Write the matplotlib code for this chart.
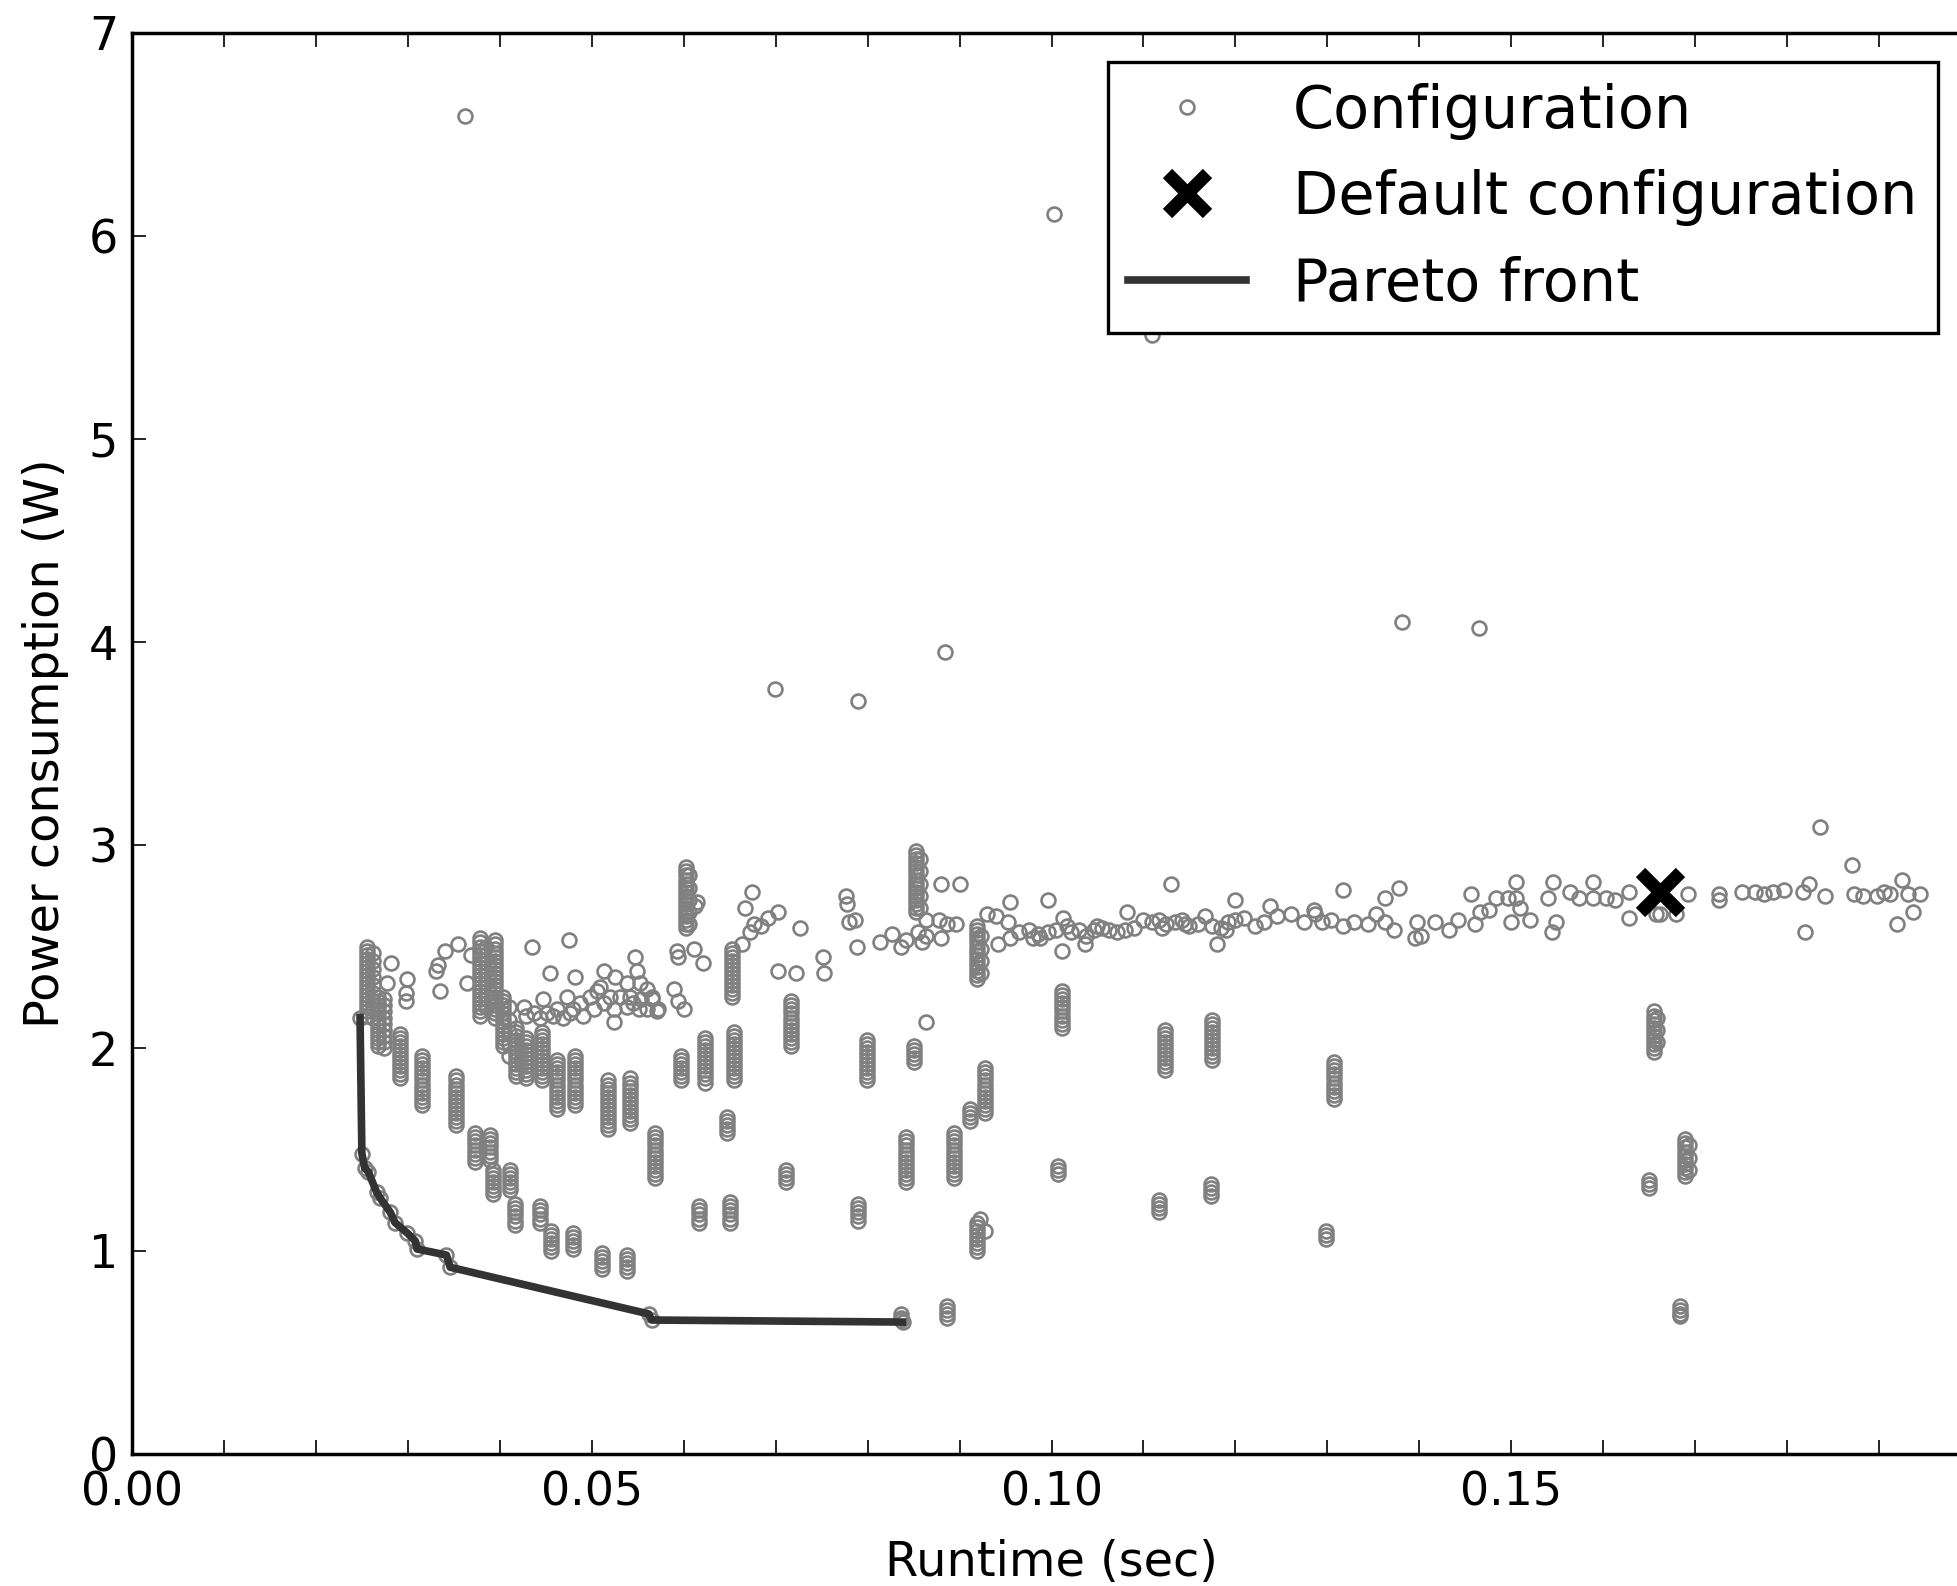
import matplotlib
matplotlib.use("Agg")
import matplotlib.pyplot as plt
from matplotlib.ticker import FixedLocator, MultipleLocator

# dense vertical groups of configurations: one runtime, several power readings
group_runtime = [0.0256, 0.0262, 0.0267, 0.0274, 0.0292, 0.0315, 0.0352, 0.0373, 0.0389,
                 0.0393, 0.0411, 0.0417, 0.0444, 0.0456, 0.0480, 0.0511, 0.0538,
                 0.0379, 0.0395, 0.0403, 0.0418, 0.0428, 0.0446, 0.0462, 0.0482, 0.0518,
                 0.0542, 0.0569, 0.0597, 0.0623, 0.0655, 0.0647, 0.0617, 0.0650, 0.0602,
                 0.0652, 0.0717, 0.0711, 0.0799, 0.0851, 0.0790, 0.0842, 0.0894, 0.0853,
                 0.0919, 0.0928, 0.0911, 0.0919, 0.0886, 0.0836, 0.1011, 0.1007, 0.1123,
                 0.1175, 0.1117, 0.1173, 0.1307, 0.1299, 0.1655, 0.1689, 0.1650, 0.1684,
                 0.0385, 0.0410, 0.0606, 0.0857, 0.0923, 0.1659, 0.1693]
group_power = [
    [2.50, 2.48, 2.46, 2.44, 2.42, 2.40, 2.38, 2.36, 2.34, 2.32, 2.30, 2.28, 2.26, 2.24, 2.22, 2.20, 2.18, 2.16],
    [2.47, 2.43, 2.39, 2.35, 2.31, 2.27, 2.23, 2.19, 2.15],
    [2.25, 2.23, 2.21, 2.19, 2.17, 2.15, 2.13, 2.11, 2.09, 2.07, 2.05, 2.03, 2.01],
    [2.24, 2.21, 2.18, 2.15, 2.12, 2.09, 2.06, 2.03, 2.00],
    [2.07, 2.05, 2.03, 2.01, 1.99, 1.97, 1.95, 1.93, 1.91, 1.89, 1.87, 1.85],
    [1.96, 1.94, 1.92, 1.90, 1.88, 1.86, 1.84, 1.82, 1.80, 1.78, 1.76, 1.74, 1.72],
    [1.86, 1.84, 1.82, 1.80, 1.78, 1.76, 1.74, 1.72, 1.70, 1.68, 1.66, 1.64, 1.62],
    [1.58, 1.56, 1.54, 1.52, 1.50, 1.48, 1.46, 1.44],
    [1.57, 1.55, 1.53, 1.51, 1.49, 1.47, 1.45],
    [1.40, 1.38, 1.36, 1.34, 1.32, 1.30, 1.28],
    [1.40, 1.38, 1.36, 1.34, 1.32, 1.30],
    [1.23, 1.21, 1.19, 1.17, 1.15, 1.13],
    [1.22, 1.20, 1.18, 1.16, 1.14],
    [1.10, 1.08, 1.06, 1.04, 1.02, 1.00],
    [1.09, 1.07, 1.05, 1.03, 1.01],
    [0.99, 0.97, 0.95, 0.93, 0.91],
    [0.98, 0.96, 0.94, 0.92, 0.90],
    [2.54, 2.52, 2.50, 2.48, 2.46, 2.44, 2.42, 2.40, 2.38, 2.36, 2.34, 2.32, 2.30, 2.28, 2.26, 2.24, 2.22, 2.20, 2.18, 2.16],
    [2.53, 2.51, 2.49, 2.47, 2.45, 2.43, 2.41, 2.39, 2.37, 2.35, 2.33, 2.31, 2.29, 2.27, 2.25, 2.23, 2.21, 2.19, 2.17, 2.15],
    [2.25, 2.23, 2.21, 2.19, 2.17, 2.15, 2.13, 2.11, 2.09, 2.07, 2.05, 2.03, 2.01],
    [2.10, 2.08, 2.06, 2.04, 2.02, 2.00, 1.98, 1.96, 1.94, 1.92, 1.90, 1.88, 1.86],
    [2.05, 2.03, 2.01, 1.99, 1.97, 1.95, 1.93, 1.91, 1.89, 1.87, 1.85],
    [2.08, 2.06, 2.04, 2.02, 2.00, 1.98, 1.96, 1.94, 1.92, 1.90, 1.88, 1.86, 1.84],
    [1.94, 1.92, 1.90, 1.88, 1.86, 1.84, 1.82, 1.80, 1.78, 1.76, 1.74, 1.72, 1.70],
    [1.96, 1.94, 1.92, 1.90, 1.88, 1.86, 1.84, 1.82, 1.80, 1.78, 1.76, 1.74, 1.72],
    [1.84, 1.82, 1.80, 1.78, 1.76, 1.74, 1.72, 1.70, 1.68, 1.66, 1.64, 1.62, 1.60],
    [1.85, 1.83, 1.81, 1.79, 1.77, 1.75, 1.73, 1.71, 1.69, 1.67, 1.65, 1.63],
    [1.58, 1.56, 1.54, 1.52, 1.50, 1.48, 1.46, 1.44, 1.42, 1.40, 1.38, 1.36],
    [1.96, 1.94, 1.92, 1.90, 1.88, 1.86, 1.84],
    [2.05, 2.03, 2.01, 1.99, 1.97, 1.95, 1.93, 1.91, 1.89, 1.87, 1.85, 1.83],
    [2.08, 2.06, 2.04, 2.02, 2.00, 1.98, 1.96, 1.94, 1.92, 1.90, 1.88, 1.86, 1.84],
    [1.66, 1.64, 1.62, 1.60, 1.58],
    [1.22, 1.20, 1.18, 1.16, 1.14],
    [1.24, 1.22, 1.20, 1.18, 1.16, 1.14],
    [2.89, 2.87, 2.85, 2.83, 2.81, 2.79, 2.77, 2.75, 2.73, 2.71, 2.69, 2.67, 2.65, 2.63, 2.61, 2.59],
    [2.49, 2.47, 2.45, 2.43, 2.41, 2.39, 2.37, 2.35, 2.33, 2.31, 2.29, 2.27, 2.25],
    [2.23, 2.21, 2.19, 2.17, 2.15, 2.13, 2.11, 2.09, 2.07, 2.05, 2.03, 2.01],
    [1.40, 1.38, 1.36, 1.34],
    [2.04, 2.02, 2.00, 1.98, 1.96, 1.94, 1.92, 1.90, 1.88, 1.86, 1.84],
    [2.01, 1.99, 1.97, 1.95, 1.93],
    [1.23, 1.21, 1.19, 1.17, 1.15],
    [1.56, 1.54, 1.52, 1.50, 1.48, 1.46, 1.44, 1.42, 1.40, 1.38, 1.36, 1.34],
    [1.58, 1.56, 1.54, 1.52, 1.50, 1.48, 1.46, 1.44, 1.42, 1.40, 1.38, 1.36],
    [2.97, 2.95, 2.93, 2.91, 2.89, 2.87, 2.85, 2.83, 2.81, 2.79, 2.77, 2.75, 2.73, 2.71, 2.69, 2.67],
    [2.60, 2.58, 2.56, 2.54, 2.52, 2.50, 2.48, 2.46, 2.44, 2.42, 2.40, 2.38, 2.36, 2.34],
    [1.90, 1.88, 1.86, 1.84, 1.82, 1.80, 1.78, 1.76, 1.74, 1.72, 1.70, 1.68],
    [1.70, 1.68, 1.66, 1.64],
    [1.14, 1.12, 1.10, 1.08, 1.06, 1.04, 1.02, 1.00],
    [0.73, 0.71, 0.69, 0.67],
    [0.69, 0.67, 0.66],
    [2.28, 2.26, 2.24, 2.22, 2.20, 2.18, 2.16, 2.14, 2.12, 2.10],
    [1.42, 1.40, 1.38],
    [2.09, 2.07, 2.05, 2.03, 2.01, 1.99, 1.97, 1.95, 1.93, 1.91, 1.89],
    [2.14, 2.12, 2.10, 2.08, 2.06, 2.04, 2.02, 2.00, 1.98, 1.96, 1.94],
    [1.25, 1.23, 1.21, 1.19],
    [1.33, 1.31, 1.29, 1.27],
    [1.93, 1.91, 1.89, 1.87, 1.85, 1.83, 1.81, 1.79, 1.77, 1.75],
    [1.10, 1.08, 1.06],
    [2.18, 2.16, 2.14, 2.12, 2.10, 2.08, 2.06, 2.04, 2.02, 2.00, 1.98],
    [1.55, 1.53, 1.51, 1.49, 1.47, 1.45, 1.43, 1.41, 1.39, 1.37],
    [1.35, 1.33, 1.31],
    [0.73, 0.71, 0.69, 0.68],
    [2.50, 2.44, 2.38, 2.32, 2.26, 2.20],
    [2.20, 2.14, 2.08, 2.02, 1.96],
    [2.85, 2.79, 2.73, 2.67, 2.61],
    [2.93, 2.87, 2.81, 2.75, 2.69],
    [2.55, 2.49, 2.43, 2.37],
    [2.15, 2.09, 2.03],
    [1.52, 1.46, 1.40],
]

# scattered single configurations
single_runtime = [
    0.0282, 0.0277, 0.0299, 0.0298, 0.0298, 0.0355, 0.0340, 0.0333, 0.0331, 0.0335, 0.0364, 0.0369,
    0.0435, 0.0455, 0.0475, 0.0482, 0.0513, 0.0525,
    0.0426, 0.0437, 0.0447, 0.0451, 0.0462, 0.0473, 0.0476, 0.0487, 0.0498, 0.0509, 0.0513, 0.0520,
    0.0524, 0.0531, 0.0538, 0.0542, 0.0547, 0.0549, 0.0553, 0.0554, 0.0560, 0.0565, 0.0571, 0.0524,
    0.0429, 0.0444, 0.0458, 0.0469, 0.0480, 0.0491, 0.0502, 0.0506, 0.0538, 0.0545, 0.0551, 0.0560,
    0.0593, 0.0594, 0.0611, 0.0621, 0.0589, 0.0594, 0.0600, 0.0572, 0.0565, 0.0614, 0.0612,
    0.0674, 0.0667, 0.0663, 0.0672, 0.0684, 0.0692, 0.0703, 0.0676, 0.0726, 0.0703, 0.0722, 0.0753,
    0.0751, 0.0776, 0.0778, 0.0780, 0.0786, 0.0788, 0.0813, 0.0826, 0.0836, 0.0842, 0.0855, 0.0863,
    0.0859, 0.0880, 0.0901, 0.0863, 0.0878, 0.0886, 0.0896, 0.0880, 0.0930, 0.0940, 0.0955, 0.0953,
    0.0942, 0.0955,
    0.0965, 0.0975, 0.0980, 0.0988, 0.0996, 0.1005, 0.1013, 0.1017, 0.1021, 0.1030, 0.1038, 0.1046,
    0.1055, 0.1063, 0.1071, 0.1080, 0.1082, 0.1100, 0.1109, 0.1117, 0.1125, 0.1134, 0.1142, 0.1150,
    0.1159, 0.1167, 0.1175, 0.1184, 0.1192, 0.1200, 0.1209, 0.1180, 0.1011, 0.1036, 0.0996, 0.1130,
    0.1200, 0.0985, 0.1050, 0.1090, 0.1120, 0.1145, 0.1190, 0.0863, 0.0922, 0.0928,
    0.1221, 0.1231, 0.1245, 0.1260, 0.1275, 0.1287, 0.1294, 0.1304, 0.1317, 0.1329, 0.1344, 0.1353,
    0.1363, 0.1373, 0.1397, 0.1402, 0.1417, 0.1432, 0.1442, 0.1461, 0.1476, 0.1466, 0.1456, 0.1483,
    0.1496, 0.1505, 0.1510, 0.1500, 0.1520, 0.1540, 0.1549, 0.1544, 0.1564, 0.1574, 0.1589, 0.1603,
    0.1613, 0.1628, 0.1657, 0.1679, 0.1692, 0.1726, 0.1726, 0.1751, 0.1765, 0.1775, 0.1785, 0.1797,
    0.1817, 0.1824, 0.1841, 0.1819, 0.1873, 0.1883, 0.1898, 0.1905, 0.1912, 0.1925, 0.1932, 0.1944,
    0.1937, 0.1920, 0.1871, 0.1836, 0.1317, 0.1378, 0.1363, 0.1505, 0.1545, 0.1589, 0.1628, 0.1238,
    0.1285, 0.1395, 0.1662,
    0.0362, 0.1003, 0.1109, 0.0699, 0.0790, 0.0884, 0.1381, 0.1465,
]
single_power = [
    2.42, 2.32, 2.34, 2.27, 2.23, 2.51, 2.48, 2.41, 2.38, 2.28, 2.32, 2.46,
    2.50, 2.37, 2.53, 2.35, 2.38, 2.35,
    2.20, 2.17, 2.24, 2.17, 2.19, 2.25, 2.17, 2.22, 2.25, 2.30, 2.22, 2.25,
    2.19, 2.25, 2.32, 2.25, 2.45, 2.38, 2.32, 2.24, 2.29, 2.25, 2.18, 2.13,
    2.16, 2.15, 2.16, 2.15, 2.19, 2.16, 2.19, 2.28, 2.20, 2.22, 2.19, 2.19,
    2.48, 2.45, 2.49, 2.42, 2.29, 2.23, 2.19, 2.19, 2.24, 2.72, 2.70,
    2.77, 2.69, 2.51, 2.57, 2.60, 2.64, 2.67, 2.61, 2.59, 2.38, 2.37, 2.37,
    2.45, 2.75, 2.71, 2.62, 2.63, 2.50, 2.52, 2.56, 2.50, 2.53, 2.57, 2.55,
    2.52, 2.81, 2.81, 2.63, 2.63, 2.61, 2.61, 2.54, 2.66, 2.65, 2.72, 2.62,
    2.51, 2.54,
    2.57, 2.58, 2.54, 2.54, 2.57, 2.58, 2.64, 2.60, 2.57, 2.58, 2.55, 2.58,
    2.59, 2.58, 2.57, 2.58, 2.67, 2.63, 2.62, 2.63, 2.61, 2.62, 2.63, 2.60,
    2.61, 2.65, 2.60, 2.59, 2.62, 2.63, 2.64, 2.51, 2.48, 2.51, 2.73, 2.81,
    2.73, 2.56, 2.60, 2.59, 2.59, 2.61, 2.58, 2.13, 1.16, 1.10,
    2.60, 2.62, 2.65, 2.66, 2.62, 2.66, 2.62, 2.63, 2.60, 2.62, 2.61, 2.66,
    2.62, 2.58, 2.62, 2.55, 2.62, 2.58, 2.63, 2.61, 2.68, 2.67, 2.76, 2.74,
    2.74, 2.74, 2.69, 2.62, 2.63, 2.74, 2.62, 2.57, 2.77, 2.74, 2.74, 2.74,
    2.73, 2.77, 2.66, 2.66, 2.76, 2.76, 2.73, 2.77, 2.77, 2.76, 2.77, 2.78,
    2.77, 2.81, 2.75, 2.57, 2.76, 2.75, 2.75, 2.77, 2.76, 2.83, 2.76, 2.76,
    2.67, 2.61, 2.90, 3.09, 2.78, 2.79, 2.74, 2.82, 2.82, 2.82, 2.64, 2.70,
    2.68, 2.54, 2.66,
    6.59, 6.11, 5.51, 3.77, 3.71, 3.95, 4.10, 4.07,
]

pareto_runtime = [0.0248, 0.0250, 0.0253, 0.0257, 0.0266, 0.0270, 0.0281, 0.0286, 0.0299,
                  0.0308, 0.0310, 0.0342, 0.0346, 0.0562, 0.0565, 0.0838]
pareto_power = [2.15, 1.48, 1.41, 1.39, 1.29, 1.26, 1.19, 1.14, 1.09,
                1.05, 1.01, 0.98, 0.92, 0.69, 0.66, 0.65]

default_runtime = [0.1662]
default_power = [2.77]

# expand the groups into flat point lists
config_runtime = list(single_runtime) + list(pareto_runtime)
config_power = list(single_power) + list(pareto_power)
for rt, pw in zip(group_runtime, group_power):
    config_runtime += [rt] * len(pw)
    config_power += pw

fig = plt.figure(figsize=(19.57, 15.86), dpi=100)
ax = fig.add_axes([132 / 1957, 132 / 1586, (1971 - 132) / 1957, (1454 - 33) / 1586])

ax.plot(config_runtime, config_power, 'o', ls='none', ms=10, mfc='none', mec='gray',
        mew=1.9, label='Configuration', zorder=2)
ax.plot(default_runtime, default_power, 'x', ls='none', ms=29, mew=9.5, color='black',
        label='Default configuration', zorder=4)
ax.plot(pareto_runtime, pareto_power, '-', color='#333333', lw=5.5, label='Pareto front', zorder=3)

ax.set_xlim(0, 0.2)
ax.set_ylim(0, 7)
ax.xaxis.set_major_locator(FixedLocator([0.0, 0.05, 0.10, 0.15]))
ax.xaxis.set_minor_locator(MultipleLocator(0.01))
ax.yaxis.set_major_locator(MultipleLocator(1))
ax.set_xticklabels(['0.00', '0.05', '0.10', '0.15'])
ax.tick_params(which='both', direction='in', top=True, right=True, length=10, width=1.2,
               labelsize=33)
ax.tick_params(axis='x', pad=12)
ax.tick_params(axis='y', pad=10)
for sp in ax.spines.values():
    sp.set_linewidth(2.5)

ax.set_xlabel('Runtime (sec)', fontsize=34.5, labelpad=17)
ax.set_ylabel('Power consumption (W)', fontsize=34.5, labelpad=14)

leg = ax.legend(loc='upper right', bbox_to_anchor=(1938 / 1957, 1 - 62 / 1586),
                bbox_transform=fig.transFigure, borderaxespad=0, numpoints=1,
                fontsize=42.4, fancybox=False, framealpha=1, labelspacing=0.5,
                handlelength=2.0, handletextpad=0.8, borderpad=0.35)
leg.get_frame().set_edgecolor('black')
leg.get_frame().set_linewidth(2.4)

fig.savefig('out.png', dpi=100)
